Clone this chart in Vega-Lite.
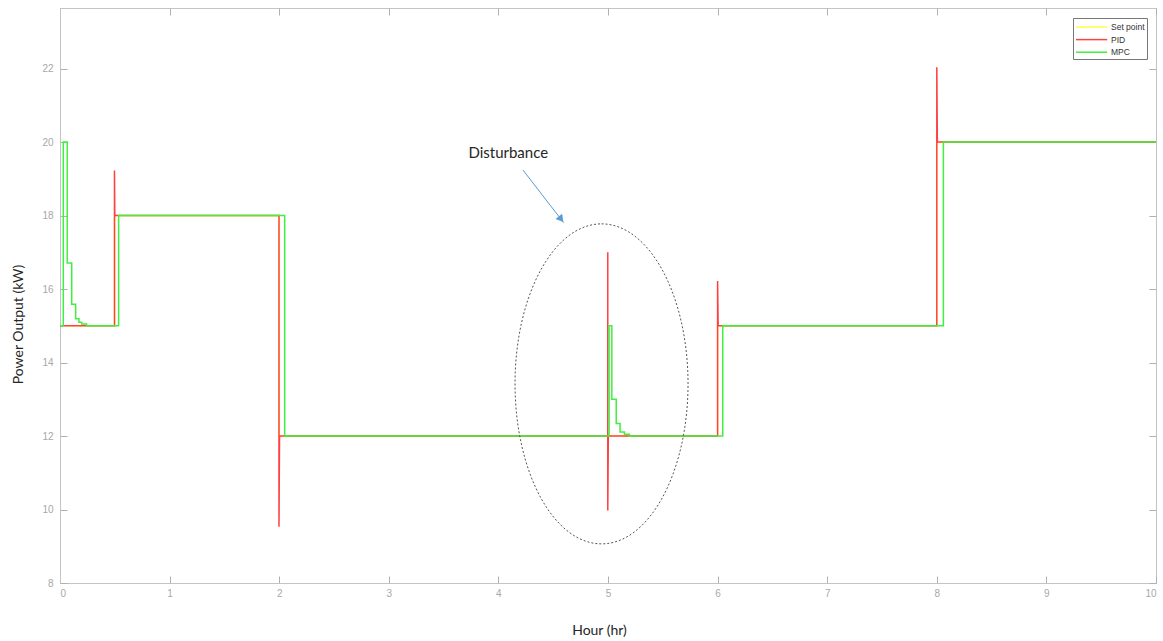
{
  "$schema": "https://vega.github.io/schema/vega-lite/v6.json",
  "width": 1096,
  "height": 575,
  "autosize": {"type": "none"},
  "padding": {"left": 60, "top": 8, "right": 7, "bottom": 58},
  "background": "white",
  "config": {
    "view": {"stroke": "#c4c4c4", "strokeWidth": 1},
    "axis": {"grid": false, "domainColor": "#c4c4c4", "tickColor": "#b0b0b0", "labelColor": "#a8a8a8", "labelFont": "Liberation Sans", "labelFontSize": 10, "titleFont": "Lato", "titleFontSize": 14, "titleFontWeight": "normal", "titleColor": "#262626"}
  },
  "datasets": {
    "lines": [
      {"series": "Set point", "t": 0, "v": 15, "ord": 1},
      {"series": "Set point", "t": 0.5, "v": 15, "ord": 2},
      {"series": "Set point", "t": 0.5, "v": 18, "ord": 3},
      {"series": "Set point", "t": 2, "v": 18, "ord": 4},
      {"series": "Set point", "t": 2, "v": 12, "ord": 5},
      {"series": "Set point", "t": 6, "v": 12, "ord": 6},
      {"series": "Set point", "t": 6, "v": 15, "ord": 7},
      {"series": "Set point", "t": 8, "v": 15, "ord": 8},
      {"series": "Set point", "t": 8, "v": 20, "ord": 9},
      {"series": "Set point", "t": 10, "v": 20, "ord": 10},

      {"series": "PID", "t": 0, "v": 15, "ord": 1},
      {"series": "PID", "t": 0.497, "v": 15, "ord": 2},
      {"series": "PID", "t": 0.497, "v": 19.23, "ord": 3},
      {"series": "PID", "t": 0.5, "v": 18, "ord": 4},
      {"series": "PID", "t": 1.998, "v": 18, "ord": 5},
      {"series": "PID", "t": 1.998, "v": 9.53, "ord": 6},
      {"series": "PID", "t": 2.003, "v": 12, "ord": 7},
      {"series": "PID", "t": 4.998, "v": 12, "ord": 8},
      {"series": "PID", "t": 4.998, "v": 17.0, "ord": 9},
      {"series": "PID", "t": 4.998, "v": 9.97, "ord": 10},
      {"series": "PID", "t": 5.003, "v": 12, "ord": 11},
      {"series": "PID", "t": 6.0, "v": 12, "ord": 12},
      {"series": "PID", "t": 6.0, "v": 16.22, "ord": 13},
      {"series": "PID", "t": 6.005, "v": 15, "ord": 14},
      {"series": "PID", "t": 8.0, "v": 15, "ord": 15},
      {"series": "PID", "t": 8.0, "v": 22.04, "ord": 16},
      {"series": "PID", "t": 8.005, "v": 20, "ord": 17},
      {"series": "PID", "t": 10, "v": 20, "ord": 18},

      {"series": "MPC", "t": 0, "v": 15, "ord": 1},
      {"series": "MPC", "t": 0.03, "v": 15, "ord": 2},
      {"series": "MPC", "t": 0.03, "v": 20, "ord": 3},
      {"series": "MPC", "t": 0.066, "v": 20, "ord": 4},
      {"series": "MPC", "t": 0.066, "v": 16.71, "ord": 5},
      {"series": "MPC", "t": 0.107, "v": 16.71, "ord": 6},
      {"series": "MPC", "t": 0.107, "v": 15.59, "ord": 7},
      {"series": "MPC", "t": 0.143, "v": 15.59, "ord": 8},
      {"series": "MPC", "t": 0.143, "v": 15.19, "ord": 9},
      {"series": "MPC", "t": 0.173, "v": 15.19, "ord": 10},
      {"series": "MPC", "t": 0.173, "v": 15.1, "ord": 11},
      {"series": "MPC", "t": 0.198, "v": 15.1, "ord": 12},
      {"series": "MPC", "t": 0.198, "v": 15.05, "ord": 13},
      {"series": "MPC", "t": 0.243, "v": 15.05, "ord": 14},
      {"series": "MPC", "t": 0.243, "v": 15, "ord": 15},
      {"series": "MPC", "t": 0.535, "v": 15, "ord": 16},
      {"series": "MPC", "t": 0.535, "v": 18, "ord": 17},
      {"series": "MPC", "t": 2.05, "v": 18, "ord": 18},
      {"series": "MPC", "t": 2.05, "v": 12, "ord": 19},
      {"series": "MPC", "t": 5.01, "v": 12, "ord": 20},
      {"series": "MPC", "t": 5.01, "v": 15, "ord": 21},
      {"series": "MPC", "t": 5.035, "v": 15, "ord": 22},
      {"series": "MPC", "t": 5.035, "v": 13.0, "ord": 23},
      {"series": "MPC", "t": 5.075, "v": 13.0, "ord": 24},
      {"series": "MPC", "t": 5.075, "v": 12.34, "ord": 25},
      {"series": "MPC", "t": 5.11, "v": 12.34, "ord": 26},
      {"series": "MPC", "t": 5.11, "v": 12.11, "ord": 27},
      {"series": "MPC", "t": 5.15, "v": 12.11, "ord": 28},
      {"series": "MPC", "t": 5.15, "v": 12.05, "ord": 29},
      {"series": "MPC", "t": 5.196, "v": 12.05, "ord": 30},
      {"series": "MPC", "t": 5.196, "v": 12, "ord": 31},
      {"series": "MPC", "t": 6.047, "v": 12, "ord": 32},
      {"series": "MPC", "t": 6.047, "v": 15, "ord": 33},
      {"series": "MPC", "t": 8.06, "v": 15, "ord": 34},
      {"series": "MPC", "t": 8.06, "v": 20, "ord": 35},
      {"series": "MPC", "t": 10, "v": 20, "ord": 36}
    ]
  },
  "layer": [
    {
      "data": {"name": "lines"},
      "transform": [{"filter": "datum.series === 'Set point'"}],
      "mark": {"type": "line", "strokeWidth": 1.5, "clip": true},
      "encoding": {
        "x": {"field": "t", "type": "quantitative", "scale": {"domain": [0, 10], "nice": false}, "axis": {"orient": "top", "labels": false, "title": null, "values": [0,1,2,3,4,5,6,7,8,9,10], "tickSize": -7, "domain": false}},
        "y": {"field": "v", "type": "quantitative", "scale": {"domain": [8, 23.65], "nice": false, "zero": false}, "axis": {"orient": "right", "labels": false, "title": null, "values": [8,10,12,14,16,18,20,22], "tickSize": -7, "domain": false}},
        "order": {"field": "ord"},
        "color": {"field": "series", "type": "nominal", "scale": {"domain": ["Set point", "PID", "MPC"], "range": ["#ffff40", "#ff4040", "#40f040"]}, "legend": {"orient": "none", "legendX": 1013, "legendY": 10, "title": null, "symbolType": "M -1 0 L 4.2 0", "symbolSize": 144, "symbolStrokeWidth": 1.5, "labelFont": "Liberation Sans", "labelFontSize": 8.5, "labelColor": "#333333", "labelOffset": 22, "rowPadding": 0.6, "padding": 2, "fillColor": "white", "strokeColor": "#777777"}}
      }
    },
    {
      "data": {"name": "lines"},
      "transform": [{"filter": "datum.series === 'PID'"}],
      "mark": {"type": "line", "strokeWidth": 1.5, "clip": true},
      "encoding": {
        "x": {"field": "t", "type": "quantitative", "axis": null},
        "y": {"field": "v", "type": "quantitative", "axis": null},
        "order": {"field": "ord"},
        "color": {"field": "series", "type": "nominal"}
      }
    },
    {
      "data": {"name": "lines"},
      "transform": [{"filter": "datum.series === 'MPC'"}],
      "mark": {"type": "line", "strokeWidth": 1.5, "clip": true},
      "encoding": {
        "x": {"field": "t", "type": "quantitative", "axis": {"orient": "bottom", "values": [0,1,2,3,4,5,6,7,8,9,10], "tickSize": -7, "labelPadding": 12, "title": "Hour (hr)", "titleX": 539, "titleY": 47, "titleBaseline": "middle", "titleAnchor": null, "titleAlign": "center"}},
        "y": {"field": "v", "type": "quantitative", "axis": {"orient": "left", "values": [8,10,12,14,16,18,20,22], "tickSize": -7, "labelPadding": 14, "title": "Power Output (kW)", "titleX": -42, "titleY": 316, "titleBaseline": "middle", "titleAlign": "center", "titleAngle": -90}},
        "order": {"field": "ord"},
        "color": {"field": "series", "type": "nominal"}
      }
    },
    {
      "data": {"values": [{"t": 4.941, "v": 13.42}]},
      "mark": {"type": "point", "shape": "M 0 -1 A 0.540625 1 0 1 1 0 1 A 0.540625 1 0 1 1 0 -1 Z", "size": 102400, "filled": false, "stroke": "#555555", "strokeWidth": 1, "strokeDash": [2, 2], "opacity": 1},
      "encoding": {
        "x": {"field": "t", "type": "quantitative", "axis": null},
        "y": {"field": "v", "type": "quantitative", "axis": null}
      }
    },
    {
      "data": {"values": [{"t": 4.224, "v": 19.24, "t2": 4.595, "v2": 17.81}]},
      "mark": {"type": "rule", "color": "#5b9bd5", "strokeWidth": 1},
      "encoding": {
        "x": {"field": "t", "type": "quantitative", "axis": null},
        "y": {"field": "v", "type": "quantitative", "axis": null},
        "x2": {"field": "t2"},
        "y2": {"field": "v2"}
      }
    },
    {
      "data": {"values": [{"t": 4.572, "v": 17.9}]},
      "mark": {"type": "point", "shape": "triangle-right", "size": 70, "filled": true, "color": "#5b9bd5", "opacity": 1, "angle": 52},
      "encoding": {
        "x": {"field": "t", "type": "quantitative", "axis": null},
        "y": {"field": "v", "type": "quantitative", "axis": null}
      }
    },
    {
      "data": {"values": [{"t": 4.09, "v": 19.69, "label": "Disturbance"}]},
      "mark": {"type": "text", "font": "Lato", "fontSize": 15, "color": "#262626", "align": "center", "baseline": "middle"},
      "encoding": {
        "x": {"field": "t", "type": "quantitative", "axis": null},
        "y": {"field": "v", "type": "quantitative", "axis": null},
        "text": {"field": "label"}
      }
    }
  ]
}
